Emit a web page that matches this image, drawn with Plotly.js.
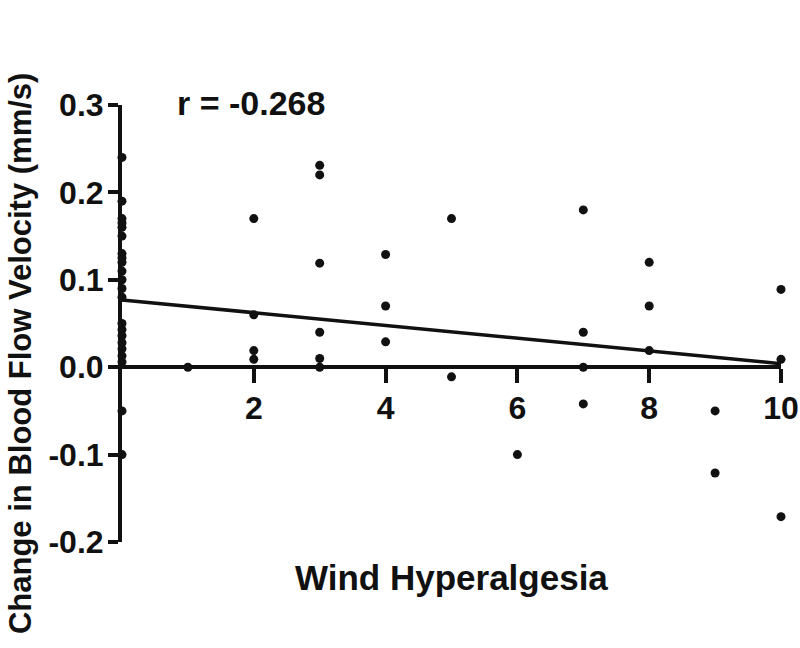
<!DOCTYPE html>
<html>
<head>
<meta charset="utf-8">
<script src="https://cdn.plot.ly/plotly-3.0.1.min.js"></script>
<style>
  body { margin: 0; background: #fff; }
  #myDiv { width: 800px; height: 648px; }
</style>
</head>
<body>
<div id="myDiv"></div>
<script>
var divId = "myDiv";

// points, grouped by wind hyperalgesia score
var x0 = [0, 0, 0, 0, 0, 0, 0, 0, 0, 0, 0, 0, 0, 0, 0, 0, 0, 0, 0, 0, 0, 0];
var y0 = [0.24, 0.19, 0.17, 0.165, 0.16, 0.15, 0.13, 0.125, 0.12, 0.11, 0.10,
          0.09, 0.08, 0.05, 0.043, 0.036, 0.028, 0.021, 0.013, 0.006, -0.05, -0.10];

var xRest = [1, 2, 2, 2, 2, 3, 3, 3, 3, 3, 3, 4, 4, 4, 5, 5, 6,
             7, 7, 7, 7, 8, 8, 8, 9, 9, 10, 10, 10];
var yRest = [0.0, 0.17, 0.06, 0.019, 0.009, 0.231, 0.22, 0.119, 0.04, 0.01, 0.0,
             0.129, 0.07, 0.029, 0.17, -0.011, -0.10,
             0.18, 0.04, 0.0, -0.042, 0.12, 0.07, 0.019, -0.05, -0.121,
             0.089, 0.009, -0.171];

// fitted line
var fitX = [0, 10];
var fitY = [0.077, 0.004];

var xTicks = [2, 4, 6, 8, 10];
var yTicks = [-0.2, -0.1, 0.0, 0.1, 0.2, 0.3];
var yTickText = ["-0.2", "-0.1", "0.0", "0.1", "0.2", "0.3"];

var fontFam = "Liberation Sans, Arial, sans-serif";
var ink = "#111111";

var data = [
  {
    x: x0.concat(xRest),
    y: y0.concat(yRest),
    type: "scatter",
    mode: "markers",
    cliponaxis: false,
    marker: { color: ink, size: 9 },
    hoverinfo: "x+y"
  },
  {
    x: fitX,
    y: fitY,
    type: "scatter",
    mode: "lines",
    cliponaxis: false,
    line: { color: ink, width: 3.5 }
  }
];

var layout = {
  width: 800,
  height: 648,
  showlegend: false,
  paper_bgcolor: "#ffffff",
  plot_bgcolor: "#ffffff",
  margin: { l: 122, r: 19, t: 105, b: 106, pad: 0 },
  font: { family: fontFam, color: ink, size: 24, weight: "bold" },
  xaxis: {
    range: [0, 10],
    anchor: "free",
    position: 0.4,
    tickvals: xTicks,
    ticktext: xTicks.map(String),
    ticks: "outside",
    ticklen: 14,
    tickwidth: 4,
    tickcolor: ink,
    ticklabelstandoff: -3,
    showline: true,
    linewidth: 4,
    linecolor: ink,
    showgrid: false,
    zeroline: false,
    tickfont: { family: fontFam, size: 32, color: ink, weight: "bold" }
  },
  yaxis: {
    range: [-0.2, 0.3],
    tickvals: yTicks,
    ticktext: yTickText,
    ticks: "outside",
    ticklen: 10,
    tickwidth: 4,
    tickcolor: ink,
    ticklabelstandoff: -2,
    showline: true,
    linewidth: 4,
    linecolor: ink,
    showgrid: false,
    zeroline: false,
    tickfont: { family: fontFam, size: 32, color: ink, weight: "bold" }
  },
  annotations: [
    {
      text: "r = -0.268",
      xref: "paper", yref: "paper",
      x: 0.08, y: 1.005,
      xanchor: "left", yanchor: "middle",
      showarrow: false,
      font: { family: fontFam, size: 34, color: ink, weight: "bold" }
    },
    {
      text: "Wind Hyperalgesia",
      xref: "paper", yref: "paper",
      x: 0.5, y: -0.082,
      xanchor: "center", yanchor: "middle",
      showarrow: false,
      font: { family: fontFam, size: 35, color: ink, weight: "bold" }
    },
    {
      text: "Change in Blood Flow Velocity (mm/s)",
      xref: "paper", yref: "paper",
      x: -0.155, y: 0.432,
      xanchor: "center", yanchor: "middle",
      textangle: -90,
      showarrow: false,
      font: { family: fontFam, size: 31, color: ink, weight: "bold" }
    }
  ]
};

var display = {
  displayModeBar: false,
  staticPlot: true
};

Plotly.newPlot(divId, data, layout, display);
</script>
</body>
</html>
